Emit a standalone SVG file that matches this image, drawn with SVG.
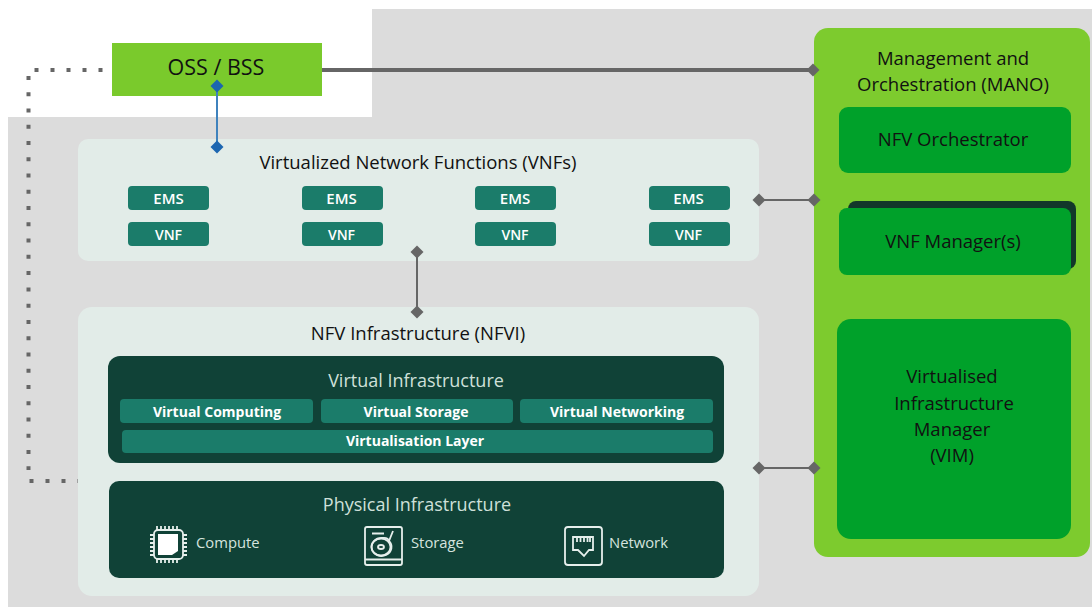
<svg xmlns="http://www.w3.org/2000/svg" width="1092" height="607" viewBox="0 0 1092 607">
<style>
text{font-family:"Open Sans","Noto Sans",sans-serif;text-anchor:middle}
.t{font-size:18.5px;fill:#111}
.e{font-size:15px;font-weight:600;fill:#fff}
.s{font-size:14px;font-weight:600;fill:#fff}
.v{font-size:14px;font-weight:700;fill:#fff}
.w{font-size:18px;fill:#cfe0da}
.l{font-size:14.8px;fill:#d5e4df;text-anchor:start}
.panel{fill:#e2ece8}
.teal{fill:#1b7c6a}
.dark{fill:#104237}
.g2{fill:#00a12a}
.ic{fill:none;stroke:#e6efec;stroke-width:1.8}
.c{fill:none;stroke:#666;stroke-width:2}
.d{fill:none;stroke:#666;stroke-width:4;stroke-dasharray:4 12}
</style>
<defs>
<marker id="dg" viewBox="-7 -7 14 14" markerWidth="14" markerHeight="14" markerUnits="userSpaceOnUse" orient="auto"><path d="M-6.500 0L0-6.500L6.500 0L0 6.500Z" fill="#666"/></marker>
<marker id="db" viewBox="-7 -7 14 14" markerWidth="14" markerHeight="14" markerUnits="userSpaceOnUse" orient="auto"><path d="M-6.500 0L0-6.500L6.500 0L0 6.500Z" fill="#1c66b0"/></marker>
</defs>
<rect width="1092" height="607" fill="#fff"/>
<path id="backdrop" d="M372 9H1092V607H8V117H372Z" fill="#dcdcdc"/>
<g id="vnfs">
<rect class="panel" x="78" y="139" width="681" height="122" rx="10"/>
<text class="t" x="418" y="169">Virtualized Network Functions (VNFs)</text>
<rect class="teal" x="128" y="186" width="81" height="24" rx="4"/><text class="e" x="168.500" y="204">EMS</text>
<rect class="teal" x="302" y="186" width="81" height="24" rx="4"/><text class="e" x="341.500" y="204">EMS</text>
<rect class="teal" x="475" y="186" width="81" height="24" rx="4"/><text class="e" x="515" y="204">EMS</text>
<rect class="teal" x="649" y="186" width="81" height="24" rx="4"/><text class="e" x="688.500" y="204">EMS</text>
<rect class="teal" x="128" y="222" width="81" height="24" rx="4"/><text class="s" x="168.500" y="240">VNF</text>
<rect class="teal" x="302" y="222" width="81" height="24" rx="4"/><text class="s" x="341.500" y="240">VNF</text>
<rect class="teal" x="475" y="222" width="81" height="24" rx="4"/><text class="s" x="515" y="240">VNF</text>
<rect class="teal" x="649" y="222" width="81" height="24" rx="4"/><text class="s" x="688.500" y="240">VNF</text>
</g>
<g id="connectors-under">
<path class="d" d="M29.500 481H78.500"/>
</g>
<g id="nfvi">
<rect class="panel" x="78" y="307" width="681" height="289" rx="14"/>
<text class="t" x="418" y="340">NFV Infrastructure (NFVI)</text>
</g>
<g id="virtual-infrastructure">
<rect class="dark" x="108" y="356" width="616" height="107" rx="12"/>
<text class="w" x="416" y="387">Virtual Infrastructure</text>
<rect class="teal" x="120" y="399" width="193" height="24" rx="4"/><text class="v" x="217" y="417">Virtual Computing</text>
<rect class="teal" x="321" y="399" width="192" height="24" rx="4"/><text class="v" x="416" y="417">Virtual Storage</text>
<rect class="teal" x="520" y="399" width="193" height="24" rx="4"/><text class="v" x="617" y="417">Virtual Networking</text>
<rect class="teal" x="122" y="430" width="591" height="23" rx="4"/><text class="v" x="415" y="446">Virtualisation Layer</text>
</g>
<g id="physical-infrastructure">
<rect class="dark" x="109" y="481" width="615" height="97" rx="10"/>
<text class="w" x="417" y="511">Physical Infrastructure</text>
<g id="compute-icon">
<rect class="ic" x="154" y="530" width="29" height="29" rx="4"/>
<path d="M158 534H178V551L172 555H158Z" fill="#fff"/>
<path class="ic" d="M157 526V530M161 526V530M165 526V530M169 526V530M173 526V530M177 526V530M157 559V563M161 559V563M165 559V563M169 559V563M173 559V563M177 559V563M150 535H154M150 539H154M150 543H154M150 547H154M150 551H154M150 555H154M183 535H187M183 539H187M183 543H187M183 547H187M183 551H187M183 555H187" stroke-width="1.200"/>
</g>
<text class="l" x="196" y="548">Compute</text>
<g id="storage-icon">
<rect class="ic" x="365" y="527" width="37" height="38" rx="2"/>
<path class="ic" d="M365 559.500H402M372 533.500H384" stroke-width="2"/>
<path class="ic" d="M393 531L389 541A10 9 0 1 1 382 538Q388 537 389 541" stroke-width="1.500"/>
<ellipse class="ic" cx="381" cy="547" rx="9.500" ry="8.500"/>
<ellipse class="ic" cx="381" cy="547" rx="3" ry="2"/>
</g>
<text class="l" x="411" y="548">Storage</text>
<g id="network-icon">
<rect class="ic" x="565" y="527" width="37" height="38" rx="3"/>
<path class="ic" d="M573 537H593V550H589L584 556L578 550H573Z"/>
<path class="ic" d="M577 537V542M580.500 537V542M584 537V542M587.500 537V542M590 537V542" stroke-width="1.100"/>
</g>
<text class="l" x="609" y="548">Network</text>
</g>
<g id="oss-bss">
<rect x="112" y="43" width="210" height="53" fill="#7aca2c"/>
<text x="216" y="74.500" style="font-size:21.500px;fill:#111">OSS / BSS</text>
</g>
<g id="mano">
<rect x="814" y="28" width="276" height="529" rx="14" fill="#7dcb2e"/>
<text class="t" x="953" y="65">Management and</text>
<text class="t" x="953" y="91">Orchestration (MANO)</text>
</g>
<g id="nfv-orchestrator">
<rect class="g2" x="839" y="107" width="232" height="66" rx="9"/>
<text class="t" x="953" y="146">NFV Orchestrator</text>
</g>
<g id="vnf-manager">
<rect x="848" y="201" width="228" height="68" rx="8" fill="#12372a"/>
<rect class="g2" x="839" y="208" width="232" height="67" rx="8"/>
<text class="t" x="953" y="248">VNF Manager(s)</text>
</g>
<g id="vim">
<rect class="g2" x="837" y="319" width="234" height="220" rx="14"/>
<text class="t" x="952" y="383">Virtualised</text>
<text class="t" x="954" y="410">Infrastructure</text>
<text class="t" x="952" y="436">Manager</text>
<text class="t" x="952" y="462">(VIM)</text>
</g>
<g id="connectors">
<path class="d" d="M102.500 70H34"/>
<path class="d" d="M28.500 76V470" style="stroke-dasharray:4 12.260"/>
<path d="M322 70H813" fill="none" stroke="#666" stroke-width="4" marker-end="url(#dg)"/>
<path d="M217 86V147" fill="none" stroke="#3f82bd" stroke-width="2" marker-start="url(#db)" marker-end="url(#db)"/>
<path class="c" d="M759 200L814 200" marker-start="url(#dg)" marker-end="url(#dg)"/>
<path class="c" d="M417 252V312" marker-start="url(#dg)" marker-end="url(#dg)"/>
<path class="c" d="M759 468H814" marker-start="url(#dg)" marker-end="url(#dg)"/>
</g>
</svg>
